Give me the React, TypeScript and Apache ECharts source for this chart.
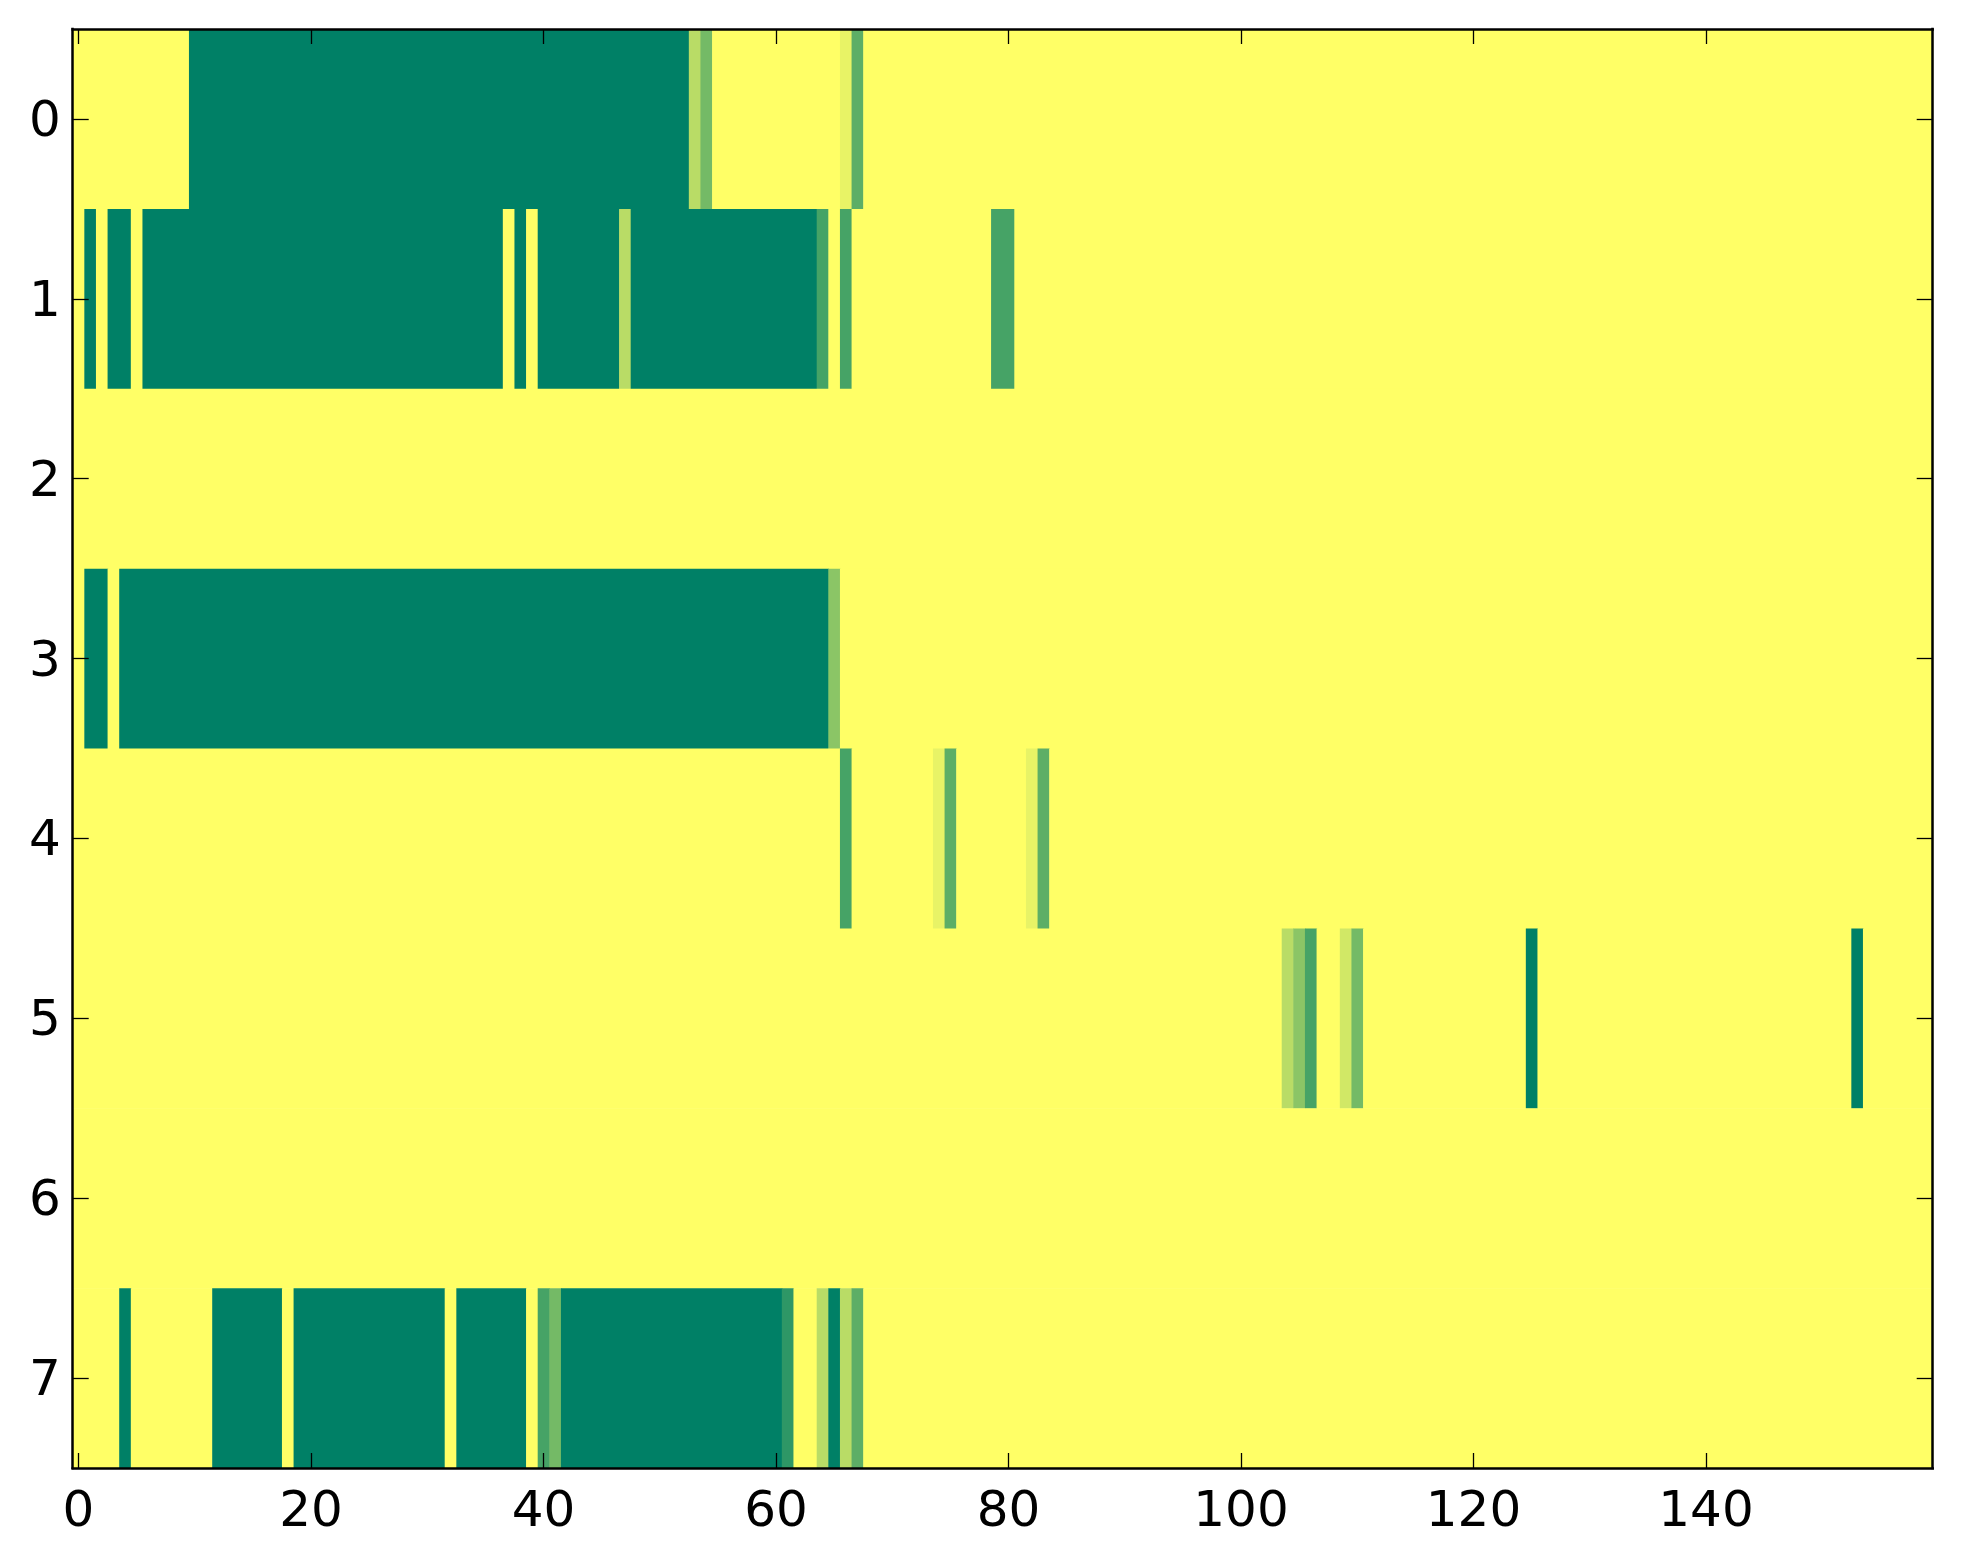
import React, { useEffect, useRef } from "react";
import * as echarts from "echarts";

// Column categories (0..159) and row categories (0..7)
const NUM_COLS = 160;
const xCategories: string[] = Array.from({ length: NUM_COLS }, (_, i) => String(i));
const yCategories: string[] = ["0", "1", "2", "3", "4", "5", "6", "7"];

// Non-zero runs per row: [startCol, endCol, value]; all other cells are 0
const row0: number[][] = [[10, 52, 11], [53, 53, 3], [54, 54, 6], [66, 66, 1], [67, 67, 7]];
const row1: number[][] = [
  [1, 1, 11], [3, 4, 11], [6, 36, 11], [38, 38, 11], [40, 46, 11], [47, 47, 3],
  [48, 63, 11], [64, 64, 8], [66, 66, 8], [79, 80, 8],
];
const row2: number[][] = [];
const row3: number[][] = [[1, 2, 11], [4, 64, 11], [65, 65, 5]];
const row4: number[][] = [[66, 66, 8], [74, 74, 1], [75, 75, 7], [82, 82, 1], [83, 83, 7]];
const row5: number[][] = [
  [104, 104, 3], [105, 105, 5], [106, 106, 8], [109, 109, 2], [110, 110, 6],
  [125, 125, 11], [153, 153, 11],
];
const row6: number[][] = [];
const row7: number[][] = [
  [4, 4, 11], [12, 17, 11], [19, 31, 11], [33, 38, 11], [40, 40, 8], [41, 41, 6],
  [42, 60, 11], [61, 61, 9], [64, 64, 3], [65, 65, 11], [66, 66, 3], [67, 67, 7],
];
const rows: number[][][] = [row0, row1, row2, row3, row4, row5, row6, row7];

const VMIN = 0;
const VMAX = 11;
const tickEvery = 20;

// Build the full grid of cell values, then group equal neighbours in a row
// into spans [startCol, endCol, row, value] so that each span is one mark.
function buildSpans(): number[][] {
  const out: number[][] = [];
  rows.forEach((runs, r) => {
    const vals = new Array(NUM_COLS).fill(0);
    runs.forEach(([s, e, v]) => {
      for (let c = s; c <= e; c++) vals[c] = v;
    });
    let start = 0;
    for (let c = 1; c <= NUM_COLS; c++) {
      if (c === NUM_COLS || vals[c] !== vals[start]) {
        out.push([start, c - 1, r, vals[start]]);
        start = c;
      }
    }
  });
  return out;
}

export default function App() {
  const ref = useRef<HTMLDivElement>(null);

  useEffect(() => {
    if (!ref.current) return;
    const chart = echarts.init(ref.current, null, { renderer: "svg" });
    const font = "DejaVu Sans";
    const xInterval = (index: number) => index % tickEvery === 0;
    const axisLine = { show: true, lineStyle: { color: "#000", width: 2.5, cap: "square" } };
    const tickStyle = { color: "#000", width: 1.3 };

    const option: any = {
      animation: false,
      backgroundColor: "#ffffff",
      grid: {
        left: 72.7,
        top: 29,
        width: 1860,
        height: 1439,
        containLabel: false,
        outerBoundsMode: "none",
      },
      visualMap: {
        show: false,
        type: "continuous",
        min: VMIN,
        max: VMAX,
        dimension: 3,
        seriesIndex: 0,
        inRange: { color: ["#ffff66", "#008066"] },
      },
      xAxis: [
        {
          type: "category",
          data: xCategories,
          position: "bottom",
          boundaryGap: true,
          z: 10,
          axisLine,
          axisTick: { show: true, inside: true, length: 15, alignWithLabel: true, interval: xInterval, lineStyle: tickStyle },
          axisLabel: { show: true, interval: xInterval, margin: 16, fontSize: 50, fontFamily: font, color: "#000" },
          splitLine: { show: false },
        },
        {
          type: "category",
          data: xCategories,
          position: "top",
          boundaryGap: true,
          z: 10,
          axisLine,
          axisTick: { show: true, inside: true, length: 15, alignWithLabel: true, interval: xInterval, lineStyle: tickStyle },
          axisLabel: { show: false },
          splitLine: { show: false },
        },
      ],
      yAxis: [
        {
          type: "category",
          data: yCategories,
          position: "left",
          inverse: true,
          boundaryGap: true,
          z: 10,
          axisLine,
          axisTick: { show: true, inside: true, length: 16, alignWithLabel: true, interval: 0, lineStyle: tickStyle },
          axisLabel: { show: true, interval: 0, margin: 12, fontSize: 50, fontFamily: font, color: "#000" },
          splitLine: { show: false },
        },
        {
          type: "category",
          data: yCategories,
          position: "right",
          inverse: true,
          boundaryGap: true,
          z: 10,
          axisLine,
          axisTick: { show: true, inside: true, length: 16, alignWithLabel: true, interval: 0, lineStyle: tickStyle },
          axisLabel: { show: false },
          splitLine: { show: false },
        },
      ],
      series: [
        {
          type: "custom",
          xAxisIndex: 0,
          yAxisIndex: 0,
          dimensions: ["start", "end", "row", "value"],
          encode: { x: [0, 1], y: 2 },
          data: buildSpans(),
          renderItem: (params: any, api: any) => {
            const a = api.coord([api.value(0), api.value(2)]);
            const b = api.coord([api.value(1), api.value(2)]);
            const s = api.size([1, 1]);
            return {
              type: "rect",
              shape: {
                x: a[0] - s[0] / 2,
                y: a[1] - s[1] / 2,
                width: b[0] - a[0] + s[0] + 0.6,
                height: s[1] + 0.6,
              },
              style: { fill: api.visual("color") },
            };
          },
        },
      ],
    };

    chart.setOption(option);
    return () => {
      chart.dispose();
    };
  }, []);

  return (
    <div
      ref={ref}
      style={{ position: "absolute", left: 0, top: 0, width: 1963, height: 1564 }}
    />
  );
}
